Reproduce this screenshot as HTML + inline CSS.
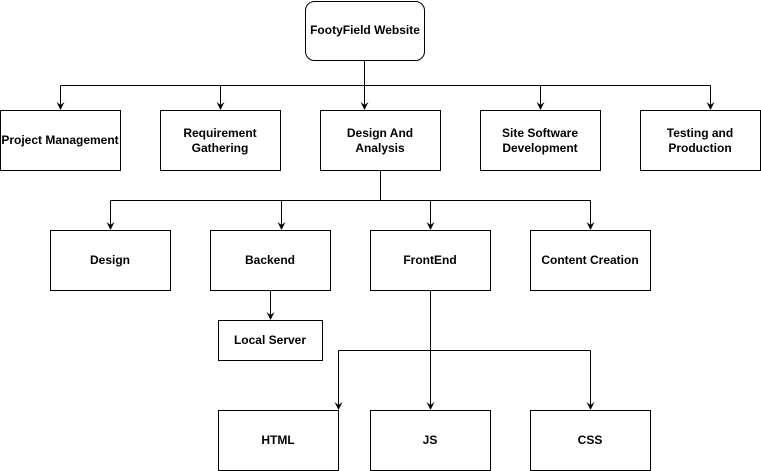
<!DOCTYPE html>
<html><head><style>
html,body{margin:0;padding:0;background:#fff;width:761px;height:471px;overflow:hidden}
text{font-family:"Liberation Sans",Arial,sans-serif;font-size:12px;font-weight:600;fill:#000}
</style></head><body>
<svg width="761" height="471" viewBox="0 0 761 471" xmlns="http://www.w3.org/2000/svg">
<defs><marker id="a" markerWidth="8" markerHeight="8" refX="4" refY="7" orient="0" markerUnits="userSpaceOnUse">
<path d="M0,0 L4,8 L8,0 L4,3 Z" fill="#000"/></marker></defs>
<g fill="none" stroke="#000" stroke-width="1">
<rect x="305.5" y="1.5" width="119" height="59" rx="9"/>
<rect x="0.5" y="110.5" width="120" height="60"/>
<rect x="160.5" y="110.5" width="120" height="60"/>
<rect x="320.5" y="110.5" width="120" height="60"/>
<rect x="480.5" y="110.5" width="120" height="60"/>
<rect x="640.5" y="110.5" width="120" height="60"/>
<rect x="50.5" y="230.5" width="120" height="60"/>
<rect x="210.5" y="230.5" width="120" height="60"/>
<rect x="370.5" y="230.5" width="120" height="60"/>
<rect x="530.5" y="230.5" width="120" height="60"/>
<rect x="218.5" y="320.5" width="104" height="40"/>
<rect x="218.5" y="410.5" width="120" height="60"/>
<rect x="370.5" y="410.5" width="120" height="60"/>
<rect x="530.5" y="410.5" width="120" height="60"/>
<path d="M364.5 61 V85.5 M60.5 85.5 H710.5"/>
<path d="M60.5 85.5 V109" marker-end="url(#a)"/>
<path d="M220.5 85.5 V109" marker-end="url(#a)"/>
<path d="M364.5 85.5 V109" marker-end="url(#a)"/>
<path d="M540.5 85.5 V109" marker-end="url(#a)"/>
<path d="M710.5 85.5 V109" marker-end="url(#a)"/>
<path d="M380.5 171 V200.5 M110.5 200.5 H590.5"/>
<path d="M110.5 200.5 V229" marker-end="url(#a)"/>
<path d="M281.5 200.5 V229" marker-end="url(#a)"/>
<path d="M430.5 200.5 V229" marker-end="url(#a)"/>
<path d="M590.5 200.5 V229" marker-end="url(#a)"/>
<path d="M270.5 291 V319" marker-end="url(#a)"/>
<path d="M430.5 291 V409" marker-end="url(#a)"/>
<path d="M338.5 350.5 H590.5"/>
<path d="M338.5 350.5 V409" marker-end="url(#a)"/>
<path d="M590.5 350.5 V409" marker-end="url(#a)"/>
</g>
<g text-anchor="middle">
<text x="365" y="34">FootyField Website</text>
<text x="60" y="144">Project Management</text>
<text x="220" y="137">Requirement</text><text x="220" y="152">Gathering</text>
<text x="380" y="137">Design And</text><text x="380" y="152">Analysis</text>
<text x="540" y="137">Site Software</text><text x="540" y="152">Development</text>
<text x="700" y="137">Testing and</text><text x="700" y="152">Production</text>
<text x="110" y="264">Design</text>
<text x="270" y="264">Backend</text>
<text x="430" y="264">FrontEnd</text>
<text x="590" y="264">Content Creation</text>
<text x="270" y="344">Local Server</text>
<text x="278" y="444">HTML</text>
<text x="430" y="444">JS</text>
<text x="590" y="444">CSS</text>
</g>
</svg>
</body></html>
